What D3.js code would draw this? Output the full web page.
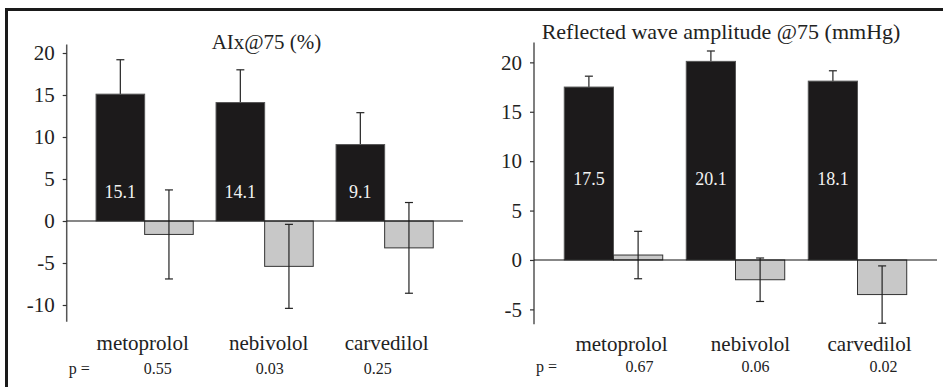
<!DOCTYPE html>
<html>
<head>
<meta charset="utf-8">
<script src="https://cdn.jsdelivr.net/npm/d3@7"></script>
<style>
body { margin: 0; background: #fff; }
text { font-family: "Liberation Serif", "Times New Roman", serif; }
</style>
</head>
<body>
<svg id="chart" width="943" height="387"></svg>
<script>
var categories = ["metoprolol", "nebivolol", "carvedilol"];

// AIx@75 (%)
var aixTicks = [-10, -5, 0, 5, 10, 15, 20];
var aixBlack = [15.1, 14.1, 9.1];
var aixBlackErr = [4.1, 3.9, 3.8];
var aixGrey = [-1.6, -5.4, -3.2];
var aixGreyErr = [5.3, 5.0, 5.4];
var aixP = ["0.55", "0.03", "0.25"];

// Reflected wave amplitude @75 (mmHg)
var rwaTicks = [-5, 0, 5, 10, 15, 20];
var rwaBlack = [17.5, 20.1, 18.1];
var rwaBlackErr = [1.1, 1.05, 1.05];
var rwaGrey = [0.5, -2.0, -3.5];
var rwaGreyErr = [2.4, 2.2, 2.9];
var rwaP = ["0.67", "0.06", "0.02"];

var svg = d3.select("#chart");

// frame (only top and left edges show)
svg.append("path")
    .attr("d", "M6.5,387 L6.5,9.5 L943,9.5")
    .style("fill", "none")
    .style("stroke", "#1a1a1a")
    .style("stroke-width", 3);

function drawPanel(p) {
    var g = svg.append("g");
    var y = d3.scaleLinear().domain(p.ydomain).range(p.yrange);
    var x0 = d3.scaleBand().domain(categories).range(p.xrange)
        .paddingInner(p.pad).paddingOuter(p.pad/2);
    var x1 = d3.scaleBand().domain(["black", "grey"]).range([0, x0.bandwidth()]);

    // y axis, plain hyphen for negatives like the original
    var axis = d3.axisLeft(y).tickValues(p.ticks).tickSize(4).tickPadding(8)
        .tickFormat(function (d) { return String(d); });
    var ag = g.append("g").attr("transform", "translate(" + p.axisX + ",0)").call(axis);
    ag.select(".domain").attr("d", "M0," + y.range()[0] + "V" + y.range()[1])
        .style("stroke", "#555").style("stroke-width", 1.5);
    ag.selectAll(".tick line").style("stroke", "#333").style("stroke-width", 1.2);
    ag.selectAll(".tick text")
        .style("font-family", "Liberation Serif")
        .style("font-size", "21px")
        .style("fill", "#222");

    // bars
    for (var i = 0; i < categories.length; i++) {
        var c = categories[i];
        var bx = x0(c) + x1("black"), gx = x0(c) + x1("grey"), w = x1.bandwidth();
        var bv = p.black[i], gv = p.grey[i];

        // black bar error (upper only)
        var bcx = bx + w/2;
        g.append("line").attr("x1", bcx).attr("x2", bcx)
            .attr("y1", y(bv)).attr("y2", y(bv + p.blackErr[i]))
            .style("stroke", "#333").style("stroke-width", 1.3);
        g.append("line").attr("x1", bcx - 4).attr("x2", bcx + 4)
            .attr("y1", y(bv + p.blackErr[i])).attr("y2", y(bv + p.blackErr[i]))
            .style("stroke", "#333").style("stroke-width", 1.3);

        g.append("rect")
            .attr("x", bx).attr("width", w)
            .attr("y", y(Math.max(0, bv))).attr("height", Math.abs(y(bv) - y(0)))
            .style("fill", "#1c1a1b").style("stroke", "#555").style("stroke-width", 1);
        g.append("rect")
            .attr("x", gx).attr("width", w)
            .attr("y", y(Math.max(0, gv))).attr("height", Math.abs(y(gv) - y(0)))
            .style("fill", "#c8c8c8").style("stroke", "#333").style("stroke-width", 1);

        // grey bar error (both ways)
        var gcx = gx + w/2;
        var top = y(gv + p.greyErr[i]), bot = y(gv - p.greyErr[i]);
        g.append("line").attr("x1", gcx).attr("x2", gcx).attr("y1", top).attr("y2", bot)
            .style("stroke", "#222").style("stroke-width", 1.2);
        [top, bot].forEach(function (yy) {
            g.append("line").attr("x1", gcx - 4).attr("x2", gcx + 4).attr("y1", yy).attr("y2", yy)
                .style("stroke", "#222").style("stroke-width", 1.2);
        });

        // value label inside black bar
        g.append("text").attr("x", bcx).attr("y", p.labelY)
            .attr("text-anchor", "middle")
            .style("font-size", "18px").style("fill", "#f2f2f2")
            .text(bv.toFixed(1));

        // category and p value
        g.append("text").attr("x", x0(c) + x0.bandwidth()/2 + p.catShift[i]).attr("y", p.catY)
            .attr("text-anchor", "middle")
            .style("font-size", "21px").style("fill", "#222")
            .text(c);
        g.append("text").attr("x", x0(c) + x0.bandwidth()/2 + p.pShift[i]).attr("y", p.pY)
            .attr("text-anchor", "middle")
            .style("font-size", "16px").style("fill", "#222")
            .text(p.pvals[i]);
    }

    // zero line
    g.append("line").attr("x1", p.axisX).attr("x2", p.zeroEnd)
        .attr("y1", y(0)).attr("y2", y(0))
        .style("stroke", "#111").style("stroke-width", 1.2);

    g.append("text").attr("x", p.axisX + 2).attr("y", p.pY)
        .style("font-size", "16px").style("fill", "#222")
        .text("p =");

    g.append("text").attr("x", p.titleX).attr("y", p.titleY)
        .attr("text-anchor", "middle")
        .style("font-size", p.titleSize).style("fill", "#222")
        .text(p.title);
}

drawPanel({
    title: "AIx@75 (%)", titleX: 266.5, titleY: 48.5, titleSize: "21px",
    ydomain: [-12, 21], yrange: [321.8, 44.6], ticks: aixTicks,
    xrange: [84.65, 444.65], pad: 0.19, axisX: 66.7, zeroEnd: 463,
    black: aixBlack, blackErr: aixBlackErr, grey: aixGrey, greyErr: aixGreyErr,
    pvals: aixP, labelY: 197.5, catY: 349.5, pY: 374,
    catShift: [-2, 4, 2], pShift: [13, 5, -7]
});

drawPanel({
    title: "Reflected wave amplitude @75 (mmHg)", titleX: 721, titleY: 39, titleSize: "22px",
    ydomain: [-6.5, 22], yrange: [324.2, 42.6], ticks: rwaTicks,
    xrange: [552.5, 918.5], pad: 0.193, axisX: 534, zeroEnd: 937,
    black: rwaBlack, blackErr: rwaBlackErr, grey: rwaGrey, greyErr: rwaGreyErr,
    pvals: rwaP, labelY: 185, catY: 350.5, pY: 372,
    catShift: [8, 15, 12], pShift: [26, 20, 26]
});
</script>
</body>
</html>
